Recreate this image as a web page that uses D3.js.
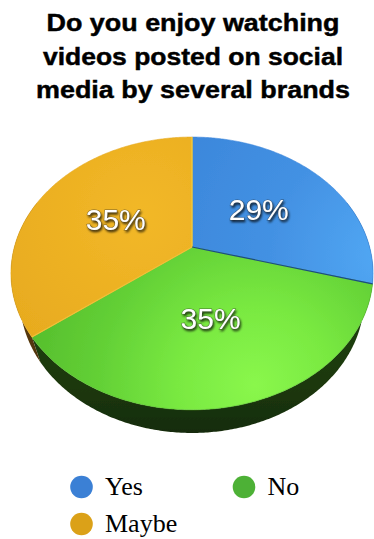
<!DOCTYPE html>
<html>
<head>
<meta charset="utf-8">
<script src="https://cdn.jsdelivr.net/npm/d3@7"></script>
<style>
  html, body { margin: 0; padding: 0; background: #ffffff; }
  svg { display: block; }
  .legend-label { font-family: "Liberation Serif", "Times New Roman", Tinos, "DejaVu Serif", "Noto Serif", serif; }
</style>
</head>
<body>
<svg id="chart" width="374" height="539"></svg>
<script>
// ---- data ----
const titleLines = ["Do you enjoy watching", "videos posted on social", "media by several brands"];
const categories = ["Yes", "No", "Maybe"];
const values = [29, 35, 35];
const valueLabels = ["29%", "35%", "35%"];

// ---- styling ----
const legendColors = ["#3b80d5", "#4db136", "#dba118"];
const topStops = [
  ["#52a8f4", "#4391e3", "#3c87db"],
  ["#8af74c", "#79e941", "#63d036", "#55bd2c"],
  ["#f2b828", "#ecb022", "#e5a81d"]
];
const wallColors = ["#1b3f6c", "#1c380c", "#4d3208"];
const dividerColors = ["#f6cf3c", "#1d4c82", "#f1c03a"];

const svg = d3.select("#chart");
const defs = svg.append("defs");

// ---- perspective view of a flat disc ----
const view = { cx: 192, cy: 247, S: 177.6, sinP: 0.739, cosP: 0.673, rho: 0.288, depth: 0.2335 };
function project(theta, r, lift) {
  const x = r * Math.sin(theta), z = -r * Math.cos(theta), y = lift;
  const d = 1 - view.rho * (y * view.sinP + z * view.cosP);
  const v = y * view.cosP - z * view.sinP;
  return [view.cx + view.S * x / d, view.cy - view.S * v / d];
}
function arcPoints(a0, a1, r, lift) {
  const n = Math.max(2, Math.ceil(Math.abs(a1 - a0) / 0.01));
  return d3.range(n + 1).map(i => project(a0 + (a1 - a0) * i / n, r, lift));
}

const pie = d3.pie().sort(null).value(d => d);
const arcs = pie(values);
const line = d3.line();

// ---- gradients ----
const blueGrad = defs.append("radialGradient").attr("id", "g0")
  .attr("gradientUnits", "userSpaceOnUse").attr("cx", 385).attr("cy", 255).attr("r", 230);
topStops[0].forEach((c, i, a) => blueGrad.append("stop").attr("offset", i / (a.length - 1)).attr("stop-color", c));
const greenGrad = defs.append("radialGradient").attr("id", "g1")
  .attr("gradientUnits", "userSpaceOnUse").attr("cx", 255).attr("cy", 385).attr("r", 235);
topStops[1].forEach((c, i, a) => greenGrad.append("stop").attr("offset", i / (a.length - 1)).attr("stop-color", c));
const orangeGrad = defs.append("radialGradient").attr("id", "g2")
  .attr("gradientUnits", "userSpaceOnUse").attr("cx", 140).attr("cy", 215).attr("r", 200);
topStops[2].forEach((c, i, a) => orangeGrad.append("stop").attr("offset", i / (a.length - 1)).attr("stop-color", c));

wallColors.forEach((c, i) => {
  const g = defs.append("linearGradient").attr("id", "w" + i)
    .attr("gradientUnits", "userSpaceOnUse").attr("x1", 0).attr("y1", 300).attr("x2", 0).attr("y2", 440);
  g.append("stop").attr("offset", 0).attr("stop-color", d3.color(c).brighter(0.4));
  g.append("stop").attr("offset", 0.6).attr("stop-color", c);
  g.append("stop").attr("offset", 1).attr("stop-color", d3.color(c).darker(0.8));
});

const shadow = defs.append("filter").attr("id", "txtShadow")
  .attr("x", "-20%").attr("y", "-20%").attr("width", "140%").attr("height", "150%");
shadow.append("feDropShadow").attr("dx", 1.2).attr("dy", 2).attr("stdDeviation", 1.1)
  .attr("flood-color", "#000").attr("flood-opacity", 0.75);

const soft = defs.append("filter").attr("id", "soft");
soft.append("feGaussianBlur").attr("stdDeviation", 0.45);

// ---- title ----
const titleWidths = [293, 300, 314];
const titleBaselines = [31, 64.5, 98];
svg.append("g").selectAll("text").data(titleLines).join("text")
  .attr("x", 193).attr("y", (d, i) => titleBaselines[i])
  .attr("text-anchor", "middle")
  .attr("textLength", (d, i) => titleWidths[i])
  .attr("lengthAdjust", "spacingAndGlyphs")
  .attr("font-family", "'Liberation Sans', Arial, Helvetica, sans-serif")
  .attr("font-weight", "bold").attr("font-size", 24)
  .attr("fill", "#000").attr("stroke", "#000").attr("stroke-width", 0.45)
  .text(d => d);

// ---- pie ----
const pieG = svg.append("g").attr("filter", "url(#soft)");
const visA = 1.2, visB = 2 * Math.PI - 1.2;

// side walls
pieG.append("g").selectAll("path").data(arcs).join("path")
  .attr("d", (d) => {
    const a0 = Math.max(d.startAngle, visA), a1 = Math.min(d.endAngle, visB);
    if (a1 <= a0) return null;
    const pts = arcPoints(a0, a1, 1, 0).concat(arcPoints(a1, a0, 1, -view.depth));
    return line(pts) + "Z";
  })
  .attr("fill", (d, i) => `url(#w${i})`);

// top faces
pieG.append("g").selectAll("path").data(arcs).join("path")
  .attr("d", d => line([project(0, 0, 0)].concat(arcPoints(d.startAngle, d.endAngle, 1, 0))) + "Z")
  .attr("fill", (d, i) => `url(#g${i})`)
  .attr("stroke", (d, i) => topStops[i][topStops[i].length - 1])
  .attr("stroke-width", 0.6);

// slice dividers
pieG.append("g").selectAll("path").data(arcs).join("path")
  .attr("d", d => line([project(0, 0, 0), project(d.startAngle, 1, 0)]))
  .attr("stroke", (d, i) => dividerColors[i])
  .attr("stroke-width", 1.2).attr("fill", "none");

// value labels
svg.append("g").selectAll("text").data(arcs).join("text")
  .attr("transform", d => {
    const p = project((d.startAngle + d.endAngle) / 2, 0.5, 0);
    return `translate(${p[0]},${p[1]})`;
  })
  .attr("dy", "0.36em")
  .attr("text-anchor", "middle")
  .attr("font-family", "'Liberation Sans', Arial, Helvetica, sans-serif")
  .attr("font-size", 30)
  .attr("fill", "#ffffff")
  .attr("stroke", "rgba(40,40,40,0.55)").attr("stroke-width", 1)
  .attr("paint-order", "stroke")
  .attr("filter", "url(#txtShadow)")
  .text((d, i) => valueLabels[i]);

// ---- legend ----
const legendX = [81.5, 244, 81.5];
const legendY = [487, 487, 524];
const legend = svg.append("g").selectAll("g").data(categories).join("g")
  .attr("transform", (d, i) => `translate(${legendX[i]},${legendY[i]})`);
legend.append("circle").attr("r", 11.3).attr("fill", (d, i) => legendColors[i]);
legend.append("text")
  .attr("class", "legend-label")
  .attr("x", 23.5).attr("y", 8.3)
  .style("font-size", "26px").attr("fill", "#000")
  .text(d => d);
</script>
</body>
</html>
